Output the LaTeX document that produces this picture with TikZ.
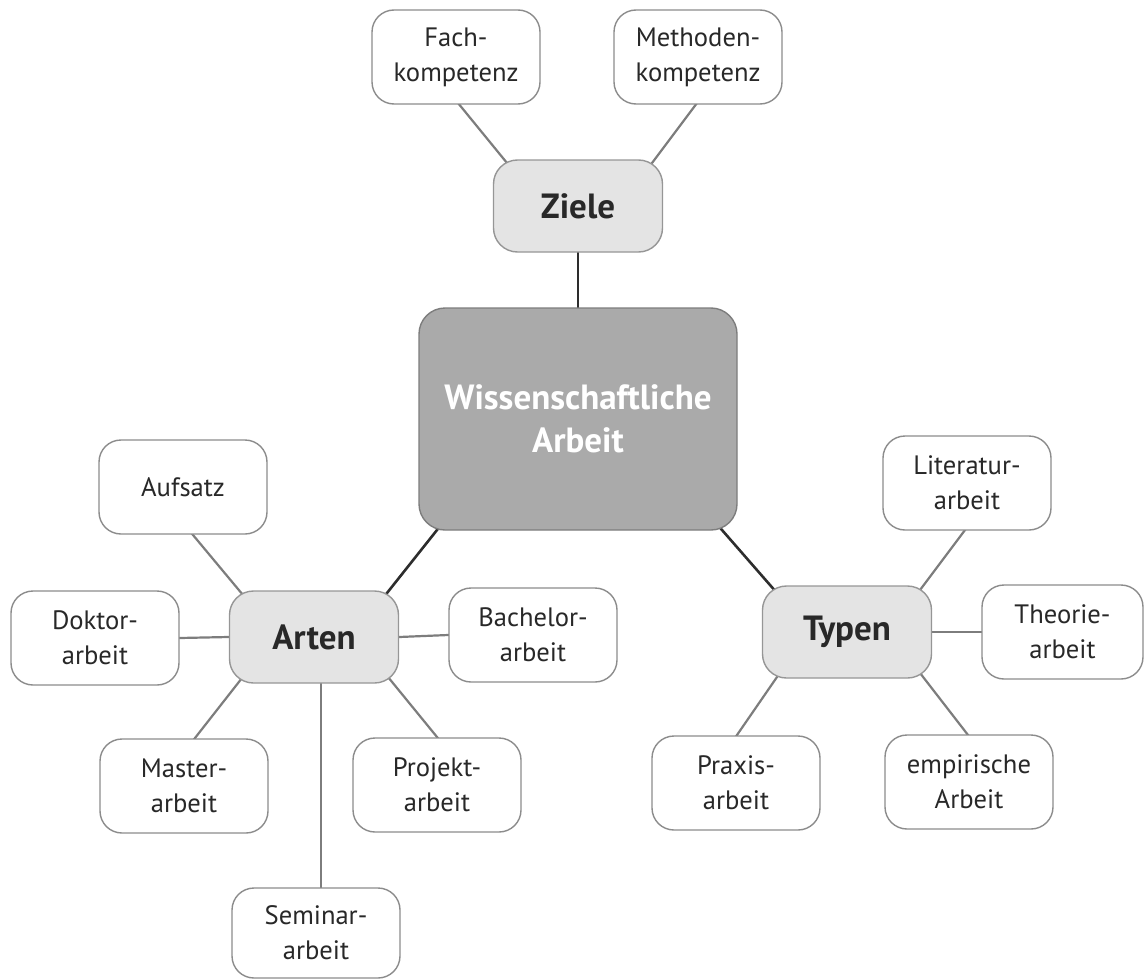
\documentclass[tikz,border=0pt]{standalone}
\usepackage{fontspec}
\setmainfont{PT Sans}
\usetikzlibrary{calc,backgrounds}
\definecolor{hubfill}{RGB}{170,170,170}
\definecolor{hubdraw}{RGB}{125,125,125}
\definecolor{midfill}{RGB}{228,228,228}
\definecolor{middraw}{RGB}{150,150,150}
\definecolor{leafdraw}{RGB}{140,140,140}
\definecolor{leafline}{RGB}{125,125,125}
\definecolor{hubline}{RGB}{45,45,45}
\definecolor{txt}{RGB}{40,40,40}
\begin{document}
\begin{tikzpicture}[x=0.5pt,y=-0.5pt,
  leaf/.style={draw=leafdraw, line width=0.7pt, fill=white, rounded corners=11pt,
    minimum width=84pt, minimum height=47pt, inner sep=0pt, align=center,
    text=txt, font=\fontsize{13.3}{17.5}\selectfont},
  mid/.style={draw=middraw, line width=0.7pt, fill=midfill, rounded corners=12pt,
    minimum width=84.5pt, minimum height=46pt, inner sep=0pt, align=center,
    text=txt, font=\fontsize{17.5}{21}\selectfont\bfseries},
  hub/.style={draw=hubdraw, line width=0.7pt, fill=hubfill, rounded corners=13pt,
    minimum width=159pt, minimum height=111pt, inner sep=0pt, align=center,
    text=white, font=\fontsize{17.5}{21.5}\selectfont\bfseries},
  leafconn/.style={draw=leafline, line width=1.1pt, shorten <=-4pt, shorten >=-4pt},
  hubconn/.style={draw=hubline, line width=1.3pt, shorten <=-4pt, shorten >=-4pt}
]
\useasboundingbox (0,0) rectangle (1145,979);

% hub and middle nodes
\node[hub] (wa) at (578,419) {Wissenschaftliche\\Arbeit};
\node[mid] (ziele) at (578,206) {Ziele};
\node[mid] (arten) at (314,637) {Arten};
\node[mid] (typen) at (847,632) {Typen};

% Ziele leaves
\node[leaf] (fach) at (456,57) {Fach-\\kompetenz};
\node[leaf] (meth) at (698,57) {Methoden-\\kompetenz};

% Arten leaves
\node[leaf] (aufsatz) at (183,487) {Aufsatz};
\node[leaf] (doktor) at (95,638) {Doktor-\\arbeit};
\node[leaf] (bachelor) at (533,635) {Bachelor-\\arbeit};
\node[leaf] (master) at (184,786) {Master-\\arbeit};
\node[leaf] (projekt) at (437,785) {Projekt-\\arbeit};
\node[leaf, minimum height=45pt] (seminar) at (316,933) {Seminar-\\arbeit};

% Typen leaves
\node[leaf] (literatur) at (967,483) {Literatur-\\arbeit};
\node[leaf, minimum width=80.5pt] (theorie) at (1062.5,632) {Theorie-\\arbeit};
\node[leaf] (praxis) at (736,783) {Praxis-\\arbeit};
\node[leaf] (empirisch) at (969,782) {empirische\\Arbeit};

\begin{scope}[on background layer]
  % hub connectors
  \draw[hubconn] (wa.north) -- (ziele.south);
  \draw[hubconn] ($(wa)+(-141,111)$) -- ($(arten)+(73,-44)$);
  \draw[hubconn] ($(wa)+(144,111)$) -- ($(typen)+(-70,-39)$);
  % Ziele
  \draw[leafconn] ($(fach)+(2,46)$) -- ($(ziele)+(-71,-43)$);
  \draw[leafconn] ($(meth)+(-1,46)$) -- ($(ziele)+(74,-43)$);
  % Arten
  \draw[leafconn] ($(aufsatz)+(10,48)$) -- ($(arten)+(-71,-42)$);
  \draw[leafconn] (doktor.east) -- (arten.west);
  \draw[leafconn] (arten.east) -- (bachelor.west);
  \draw[leafconn] ($(master)+(11,-48)$) -- ($(arten)+(-72,41)$);
  \draw[leafconn] ($(projekt)+(0,-48)$) -- ($(arten)+(74,40)$);
  \draw[leafconn] ($(arten.south)+(7,0)$) -- ($(seminar.north)+(5,0)$);
  % Typen
  \draw[leafconn] ($(literatur)+(-2,47)$) -- ($(typen)+(73,-42)$);
  \draw[leafconn] (typen.east) -- (theorie.west);
  \draw[leafconn] ($(praxis)+(1,-48)$) -- ($(typen)+(-70,45)$);
  \draw[leafconn] ($(empirisch)+(-1,-47)$) -- ($(typen)+(73,41)$);
\end{scope}
\end{tikzpicture}
\end{document}
